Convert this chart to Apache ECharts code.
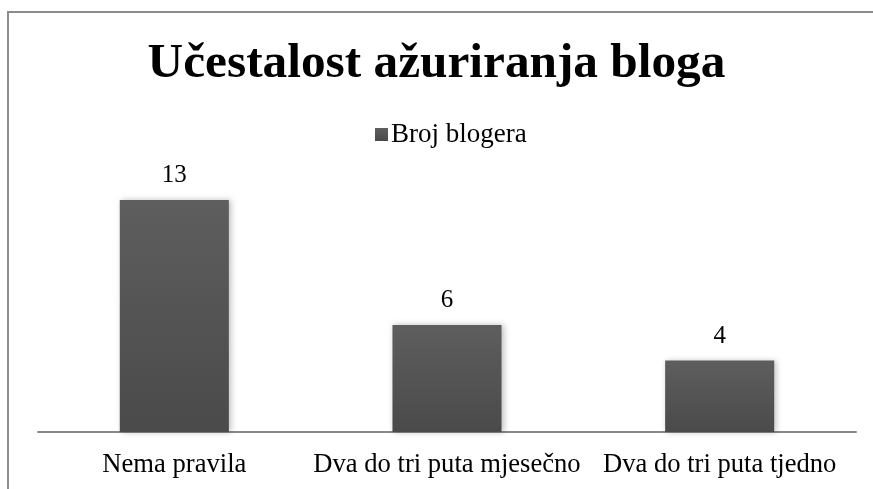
<!DOCTYPE html>
<html>
<head>
<meta charset="utf-8">
<script src="https://cdn.jsdelivr.net/npm/echarts@6/dist/echarts.min.js"></script>
<style>
  html, body { margin: 0; padding: 0; background: #fff; }
  #chart { width: 873px; height: 489px; }
</style>
</head>
<body>
<div id="chart"></div>
<script>
// podaci grafikona
const categories = ["Nema pravila", "Dva do tri puta mjesečno", "Dva do tri puta tjedno"];
const brojBlogera = [13, 6, 4];
const seriesName = "Broj blogera";
const titleText = "Učestalost ažuriranja bloga";

const font = "Liberation Serif";
const chart = echarts.init(document.getElementById("chart"));

chart.setOption({
  animation: false,
  title: {
    text: titleText,
    left: "center",
    top: 35,
    textStyle: { fontFamily: font, fontSize: 49.3, fontWeight: "bold", color: "#000" }
  },
  legend: {
    data: [seriesName],
    top: 116,
    left: 370,
    itemWidth: 13,
    itemHeight: 13,
    itemGap: 4,
    icon: "rect",
    textStyle: { fontFamily: font, fontSize: 27, color: "#000", padding: [0, 0, 0, -2] }
  },
  grid: {                 // os na y=432, od x=38 do 856
    left: 38,
    right: 17,
    top: 432 - 14 * 17.85,
    bottom: 489 - 432
  },
  xAxis: {
    type: "category",
    data: categories,
    axisTick: { show: false },
    axisLine: { lineStyle: { color: "#888", width: 2 } },
    axisLabel: { fontFamily: font, fontSize: 26.6, color: "#000", margin: 20, interval: 0 }
  },
  yAxis: {
    type: "value",
    min: 0,
    max: 14,
    show: false,
    splitLine: { show: false }
  },
  series: [{
    name: seriesName,
    type: "bar",
    data: brojBlogera,
    barWidth: "40%",
    itemStyle: {
      color: {
        type: "linear", x: 0, y: 0, x2: 0, y2: 1,
        colorStops: [
          { offset: 0, color: "#5e5e5e" },
          { offset: 1, color: "#4a4a4a" }
        ]
      },
      shadowColor: "rgba(0,0,0,0.25)",
      shadowBlur: 6,
      shadowOffsetX: 2
    },
    label: {
      show: true,
      position: "top",
      distance: 12,
      fontFamily: font,
      fontSize: 25,
      color: "#000"
    }
  }],
  graphic: [{
    type: "rect",
    shape: { x: 8, y: 12, width: 900, height: 520 },
    style: { fill: "none", stroke: "#8c8c8c", lineWidth: 2 },
    silent: true,
    z: 100
  }]
});
</script>
</body>
</html>
